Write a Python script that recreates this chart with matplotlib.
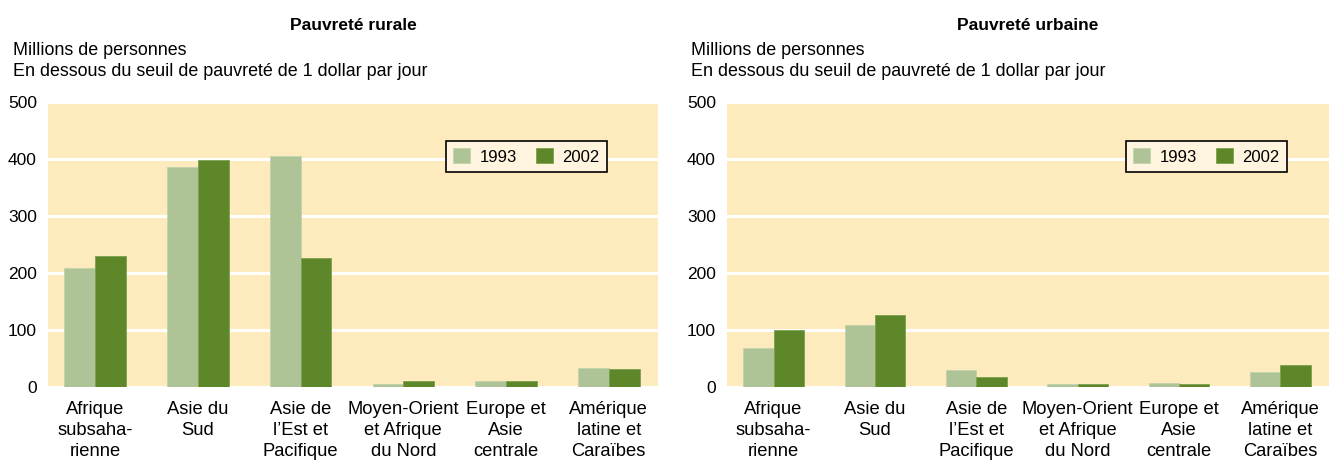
import matplotlib
matplotlib.use("Agg")
import matplotlib.pyplot as plt
import numpy as np

plt.rcParams['font.family'] = ['Liberation Sans', 'DejaVu Sans']

categories = ["Afrique\nsubsaha-\nrienne", "Asie du\nSud", "Asie de\nl\u2019Est et\nPacifique",
              "Moyen-Orient\net Afrique\ndu Nord", "Europe et\nAsie\ncentrale", "Am\u00e9rique\nlatine et\nCara\u00efbes"]
series_names = ["1993", "2002"]
rural_1993 = [208, 386, 405, 6, 10, 33]
rural_2002 = [229, 398, 226, 11, 10, 32]
urban_1993 = [68, 109, 29, 6, 7, 27]
urban_2002 = [100, 127, 17, 6, 5, 38]
yticks = [0, 100, 200, 300, 400, 500]
titles = ["Pauvret\u00e9 rurale", "Pauvret\u00e9 urbaine"]
subtitle = "Millions de personnes\nEn dessous du seuil de pauvret\u00e9 de 1 dollar par jour"

BG = "#FDEBBD"
C93 = "#AEC497"
C02 = "#5D8728"

W, H = 1329, 461
fig = plt.figure(figsize=(W / 100, H / 100), dpi=100)

panels = [
    (48, 658, rural_1993, rural_2002, 0.916),
    (727, 1329, urban_1993, urban_2002, 0.930),
]
top, bottom = 102, 387

for i, (x0, x1, v93, v02, legx) in enumerate(panels):
    ax = fig.add_axes([x0 / W, 1 - bottom / H, (x1 - x0) / W, (bottom - top) / H])
    ax.set_facecolor(BG)
    x = np.arange(len(categories))
    bw = 0.3
    ax.bar(x - bw / 2, v93, bw, color=C93, edgecolor="#C3D3AE", linewidth=0.6, label=series_names[0], zorder=3)
    ax.bar(x + bw / 2, v02, bw, color=C02, edgecolor="#7EA050", linewidth=0.6, label=series_names[1], zorder=3)
    ax.set_ylim(0, 500)
    ax.set_xlim(-0.46, 5.48)
    ax.set_yticks(yticks)
    ax.set_yticklabels([str(t) for t in yticks], fontsize=12.5)
    ax.set_xticks(x)
    ax.set_xticklabels(categories, fontsize=13.2, linespacing=1.32)
    ax.tick_params(length=0, pad=8)
    ax.tick_params(axis='x', pad=10)
    ax.grid(axis='y', color='white', linewidth=2.2, zorder=1)
    ax.set_axisbelow(True)
    for s in ax.spines.values():
        s.set_visible(False)
    leg = ax.legend(loc='upper right', bbox_to_anchor=(legx, 0.862), ncol=2, fontsize=12,
                    frameon=True, fancybox=False, handlelength=1.02, handleheight=1.02,
                    handletextpad=0.6, columnspacing=1.1, borderpad=0.42, borderaxespad=0)
    leg.get_frame().set_facecolor("#FFF5DF")
    leg.get_frame().set_edgecolor("black")
    leg.get_frame().set_linewidth(1.2)
    leg.get_frame().set_alpha(1)
    fig.text((x0 + x1) / 2 / W, 1 - 25 / H, titles[i], ha='center', va='center',
             fontsize=12.5, fontweight='bold')
    fig.text((13 if i == 0 else 691) / W, 1 - 61 / H, subtitle, ha='left', va='center',
             fontsize=12.9, linespacing=1.34)

fig.savefig("out.png", dpi=100, facecolor="white")
